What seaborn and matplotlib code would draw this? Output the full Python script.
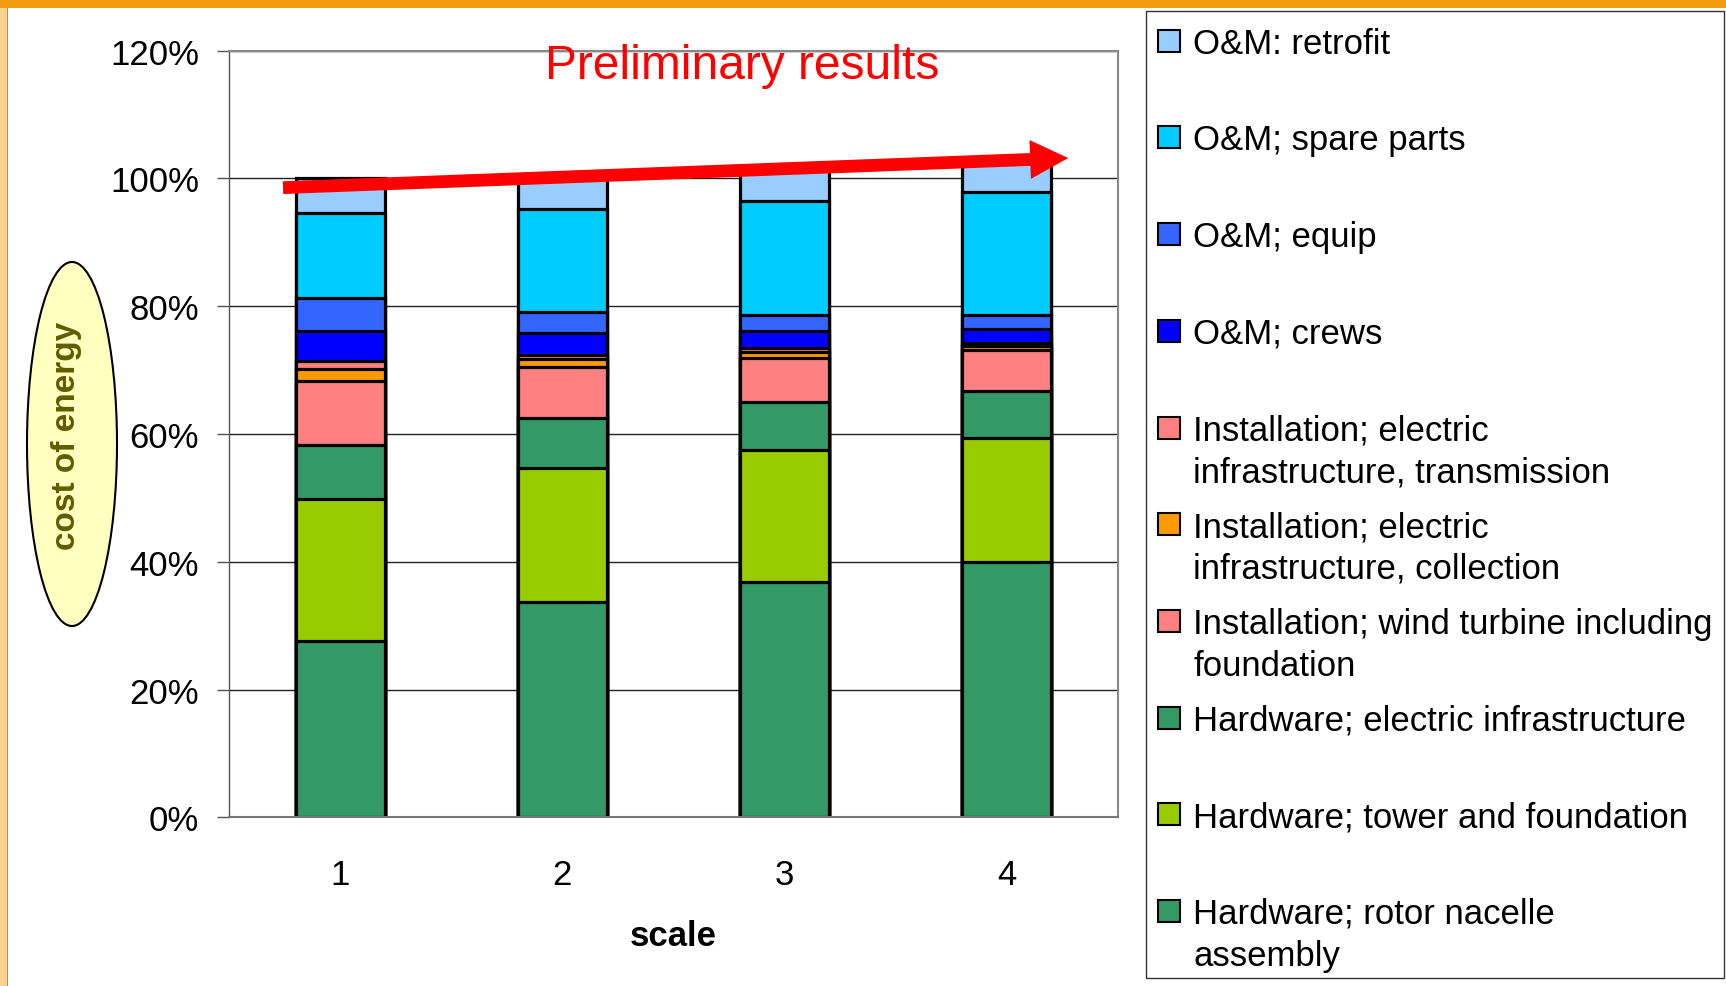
import matplotlib
matplotlib.use("Agg")
import matplotlib.pyplot as plt
from matplotlib.patches import Rectangle, Ellipse
import pandas as pd
import seaborn as sns

# Turbine scale classes on the x axis
scales = ["1", "2", "3", "4"]

# Cost-of-energy components, in percent of the scale-1 total (bottom to top)
hw_rotor_nacelle = [27.6, 33.7, 36.9, 39.9]
hw_tower_foundation = [22.2, 20.9, 20.6, 19.5]
hw_electric = [8.5, 7.9, 7.5, 7.4]
inst_turbine = [10.0, 7.95, 6.9, 6.3]
inst_collection = [1.85, 1.25, 1.0, 0.7]
inst_transmission = [1.2, 0.6, 0.5, 0.5]
om_crews = [4.8, 3.5, 2.7, 2.1]
om_equip = [5.1, 3.25, 2.6, 2.3]
om_spare_parts = [13.4, 16.15, 17.7, 19.2]
om_retrofit = [5.4, 5.4, 5.4, 4.7]

component_names = [
    "Hardware; rotor nacelle\nassembly",
    "Hardware; tower and foundation",
    "Hardware; electric infrastructure",
    "Installation; wind turbine including\nfoundation",
    "Installation; electric\ninfrastructure, collection",
    "Installation; electric\ninfrastructure, transmission",
    "O&M; crews",
    "O&M; equip",
    "O&M; spare parts",
    "O&M: retrofit",
]
component_values = [
    hw_rotor_nacelle, hw_tower_foundation, hw_electric, inst_turbine,
    inst_collection, inst_transmission, om_crews, om_equip,
    om_spare_parts, om_retrofit,
]
component_colors = [
    "#339966", "#99CC00", "#339966", "#FF8080", "#FF9900",
    "#FF8080", "#0000FF", "#3366FF", "#00CCFF", "#99CCFF",
]

y_ticks = [0, 20, 40, 60, 80, 100, 120]
y_tick_labels = ["0%", "20%", "40%", "60%", "80%", "100%", "120%"]

# Long table with the running top of each stacked segment
rows = []
for name, vals in zip(component_names, component_values):
    for i, s in enumerate(scales):
        rows.append({"component": name, "scale": s, "share": vals[i]})
df = pd.DataFrame(rows)
df["top"] = df.groupby("scale")["share"].cumsum()

sns.set_style("white")
plt.rcParams["font.family"] = ["Liberation Sans", "DejaVu Sans"]
plt.rcParams["text.color"] = "black"
plt.rcParams["xtick.color"] = "black"
plt.rcParams["ytick.color"] = "black"

W, H = 1726, 987
fig = plt.figure(figsize=(W / 100, H / 100), dpi=100)
fig.patch.set_facecolor("white")

ax = fig.add_axes([229 / W, 1 - 818.3 / H, (1118 - 229) / W, (818.3 - 51.7) / H])

# Stacked bars: draw the tallest cumulative layer first, then overlay lower ones
for name, color in reversed(list(zip(component_names, component_colors))):
    sub = df[df["component"] == name]
    sns.barplot(data=sub, x="scale", y="top", order=scales, color=color,
                width=0.4, edgecolor="black", linewidth=2.3, saturation=1,
                ax=ax, zorder=2)

ax.set_xlim(-0.5, 3.5)
ax.set_ylim(0, 120)
ax.set_yticks(y_ticks)
ax.set_yticklabels(y_tick_labels, fontsize=25, color="black")
ax.set_xticks(range(len(scales)))
ax.set_xticklabels(scales, fontsize=25, color="black")
ax.set_xticks([-0.5, 0.5, 1.5, 2.5, 3.5], minor=True)
ax.tick_params(axis="x", which="major", length=0, pad=29)
ax.tick_params(axis="x", which="minor", length=8.6, width=1, color="#666666",
               direction="out")
ax.tick_params(axis="y", length=8.6, width=1, color="#555555", pad=13,
               direction="out", left=True)
ax.set_xlabel("")
ax.set_ylabel("")
ax.yaxis.grid(True, color="#222222", linewidth=1, zorder=0)
ax.xaxis.grid(False)
ax.set_axisbelow(True)
for side in ["top", "right"]:
    ax.spines[side].set_color("#888888")
    ax.spines[side].set_linewidth(1.5)
ax.spines["left"].set_color("#555555")
ax.spines["left"].set_linewidth(1)
ax.spines["bottom"].set_color("#777777")
ax.spines["bottom"].set_linewidth(1.5)

# Rising trend arrow across the bar tops
ax.annotate("", xy=(3.276, 103.2), xytext=(-0.257, 98.56),
            arrowprops=dict(arrowstyle="simple,head_length=2.74,head_width=2.8,tail_width=0.92",
                            mutation_scale=10, fc="#FF0000", ec="none",
                            shrinkA=0, shrinkB=0),
            zorder=10, annotation_clip=False)

fig.text(742 / W, 1 - 79.3 / H, "Preliminary results", color="#FF0000",
         fontsize=34.5, ha="center", va="baseline")

fig.text(673.5 / W, 1 - 937 / H, "scale", fontsize=25, fontweight="bold",
         ha="center", va="center")

# Y axis title inside a yellow ellipse
fig.add_artist(Ellipse((72 / W, 1 - 445 / H), 90 / W, 364 / H,
                       transform=fig.transFigure, facecolor="#FFFFC0",
                       edgecolor="black", linewidth=1.5))
fig.text(67 / W, 1 - 436 / H, "cost of energy", rotation=90, fontsize=24,
         fontweight="bold", color="#5E5E00", ha="center", va="center")

# Slide frame: orange top band and pale left strip
fig.add_artist(Rectangle((0, 1 - 9 / H), 1, 9 / H, transform=fig.transFigure,
                         facecolor="#F39C12", edgecolor="none"))
fig.add_artist(Rectangle((0, 0), 7 / W, 1 - 9 / H, transform=fig.transFigure,
                         facecolor="#FCD38E", edgecolor="none"))
fig.add_artist(Rectangle((7 / W, 0), 1.2 / W, 1 - 9 / H, transform=fig.transFigure,
                         facecolor="#B09060", edgecolor="none"))

# Legend box, entries listed from the top segment down
fig.add_artist(Rectangle((1146 / W, 1 - 979 / H), (1724 - 1146) / W, (979 - 11.7) / H,
                         transform=fig.transFigure, facecolor="white",
                         edgecolor="#333333", linewidth=1))
for k, (name, color) in enumerate(zip(component_names[::-1], component_colors[::-1])):
    cy = 41.7 + k * 96.7
    fig.add_artist(Rectangle((1158 / W, 1 - (cy + 11) / H), 22 / W, 22 / H,
                             transform=fig.transFigure, facecolor=color,
                             edgecolor="black", linewidth=1.5))
    for j, line in enumerate(name.split("\n")):
        fig.text(1193 / W, 1 - (cy + 12 + j * 41.7) / H, line, fontsize=25,
                 ha="left", va="baseline", color="black")

fig.savefig("out.png", dpi=100, facecolor="white")
